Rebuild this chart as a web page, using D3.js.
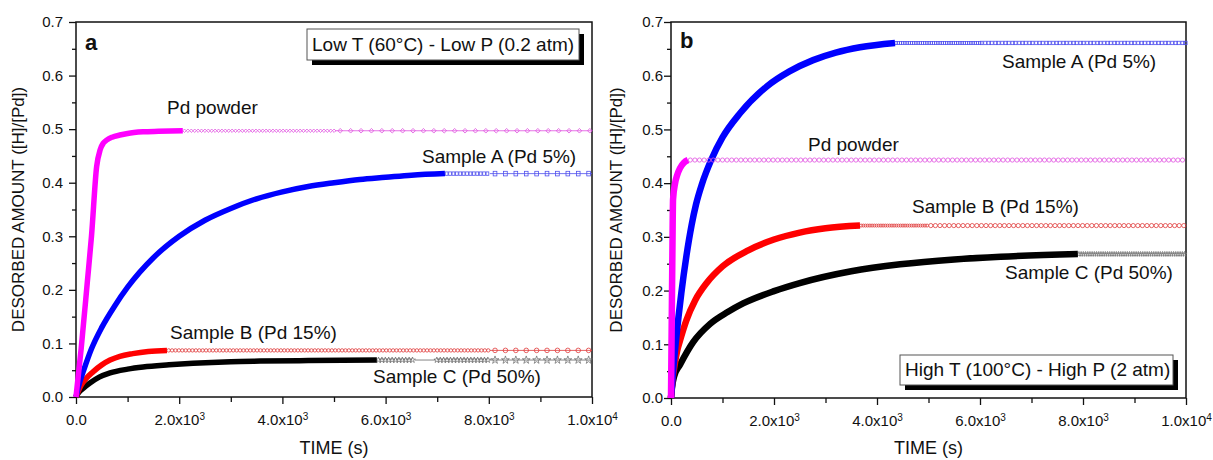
<!DOCTYPE html>
<html>
<head>
<meta charset="utf-8">
<script src="https://cdn.jsdelivr.net/npm/d3@7"></script>
<style>
  body { margin: 0; background: #fff; }
  text { font-family: "Liberation Sans", Arial, sans-serif; fill: #111; }
</style>
</head>
<body>
<svg id="chart" width="1213" height="460"></svg>
<script>
// ---- data ----
var timeTicks = [0, 2000, 4000, 6000, 8000, 10000];
var timeMinor = [1000, 3000, 5000, 7000, 9000];
var amountTicks = [0, 0.1, 0.2, 0.3, 0.4, 0.5, 0.6, 0.7];
var amountMinor = [0.05, 0.15, 0.25, 0.35, 0.45, 0.55, 0.65];

// panel a : Low T (60°C) - Low P (0.2 atm)
var pdA_t = [0, 100, 220, 300, 400, 470, 530, 600, 700, 850, 1000, 1300, 1600, 2070];
var pdA_v = [0, 0.09, 0.215, 0.30, 0.43, 0.462, 0.474, 0.48, 0.485, 0.489, 0.492, 0.495, 0.496, 0.497];
var pdA_tail = [2070, 5020, 10000];

var sA_a_t = [0, 50, 150, 300, 500, 750, 1000, 1500, 2000, 2500, 3000, 3500, 4000, 4500, 5000, 5500, 6000, 6500, 7150];
var sA_a_v = [0, 0.02, 0.05, 0.09, 0.13, 0.17, 0.205, 0.26, 0.30, 0.33, 0.352, 0.37, 0.383, 0.393, 0.400, 0.406, 0.410, 0.414, 0.417];
var sA_a_tail = [7150, 8020, 10000];

var sB_a_t = [0, 50, 100, 200, 330, 500, 660, 850, 1100, 1400, 1763];
var sB_a_v = [0, 0.012, 0.022, 0.035, 0.047, 0.06, 0.069, 0.076, 0.081, 0.085, 0.087];
var sB_a_tail = [1763, 8020, 10000];

var sC_a_t = [0, 50, 150, 270, 450, 660, 1000, 1300, 1800, 2270, 3000, 3570, 4500, 5830];
var sC_a_v = [0, 0.008, 0.017, 0.026, 0.037, 0.045, 0.052, 0.056, 0.060, 0.063, 0.066, 0.067, 0.068, 0.069];
var sC_a_tail = [5830, 6570, 6960, 8020, 10000];

// panel b : High T (100°C) - High P (2 atm)
var pdB_t = [0, 10, 25, 40, 80, 120, 175, 250, 330];
var pdB_v = [0, 0.1, 0.25, 0.37, 0.40, 0.415, 0.428, 0.438, 0.443];
var pdB_tail = [330, 10000];

var sA_b_t = [0, 40, 100, 200, 300, 400, 485, 600, 780, 1000, 1340, 1860, 2300, 2760, 3200, 3670, 4350];
var sA_b_v = [0, 0.05, 0.11, 0.195, 0.265, 0.322, 0.36, 0.398, 0.443, 0.485, 0.53, 0.58, 0.608, 0.629, 0.643, 0.653, 0.661];
var sA_b_tail = [4350, 6000, 10000];

var sB_b_t = [0, 25, 60, 120, 175, 300, 470, 700, 1000, 1500, 2000, 2500, 3000, 3670];
var sB_b_v = [0, 0.03, 0.055, 0.088, 0.107, 0.145, 0.182, 0.215, 0.245, 0.275, 0.295, 0.308, 0.316, 0.321];
var sB_b_tail = [3670, 5000, 10000];

var sC_b_t = [0, 20, 60, 175, 430, 760, 1100, 1400, 2000, 2500, 3500, 4450, 5500, 6400, 7900];
var sC_b_v = [0, 0.02, 0.04, 0.062, 0.104, 0.138, 0.16, 0.176, 0.199, 0.214, 0.236, 0.249, 0.258, 0.263, 0.268];
var sC_b_tail = [7900, 10000];

// ---- styles ----
var tailStyles = {
  dense:  { step: 3.4, size: 3.4 },
  fine:   { step: 2.2, size: 3.0 },
  mid:    { step: 4.6, size: 4.2 },
  sparse: { step: 10.4, size: 4.6, line: true },
  line:   { step: 0, line: true }
};

var panels = [
  {
    box: { left: 76, right: 592, top: 22, bottom: 397 },
    letter: "a", letterPos: [85, 50],
    note: "Low T (60°C) - Low P (0.2 atm)", noteBox: [307, 29, 272, 31], noteText: [312, 51],
    yTitleX: 24, labelPad: 6, width: 5.5,
    series: [
      { t: sC_a_t, v: sC_a_v, tail: sC_a_tail, kinds: ["dense", "line", "dense", "sparse"], color: "#000", mark: "#666", shape: "star",
        label: "Sample C (Pd 50%)", at: [373, 383] },
      { t: sB_a_t, v: sB_a_v, tail: sB_a_tail, kinds: ["dense", "sparse"], color: "#ff0000", mark: "#e03a3a", shape: "circle",
        label: "Sample B (Pd 15%)", at: [170, 339] },
      { t: sA_a_t, v: sA_a_v, tail: sA_a_tail, kinds: ["dense", "sparse"], color: "#0000ff", mark: "#5050ee", shape: "square",
        label: "Sample A (Pd 5%)", at: [422, 163] },
      { t: pdA_t, v: pdA_v, tail: pdA_tail, kinds: ["dense", "sparse"], color: "#ff00ff", mark: "#e050e0", shape: "diamond",
        label: "Pd powder", at: [167, 114] }
    ]
  },
  {
    box: { left: 671, right: 1186, top: 22, bottom: 398 },
    letter: "b", letterPos: [680, 48],
    note: "High T (100°C) - High P (2 atm)", noteBox: [900, 355, 273, 30], noteText: [905, 376],
    yTitleX: 622, labelPad: 1, width: 6.5,
    series: [
      { t: sC_b_t, v: sC_b_v, tail: sC_b_tail, kinds: ["fine"], color: "#000", mark: "#777", shape: "star",
        label: "Sample C (Pd 50%)", at: [1005, 279] },
      { t: sB_b_t, v: sB_b_v, tail: sB_b_tail, kinds: ["fine", "mid"], color: "#ff0000", mark: "#e03a3a", shape: "circle",
        label: "Sample B (Pd 15%)", at: [912, 213] },
      { t: sA_b_t, v: sA_b_v, tail: sA_b_tail, kinds: ["fine", "dense"], color: "#0000ff", mark: "#5050ee", shape: "square",
        label: "Sample A (Pd 5%)", at: [1002, 68] },
      { t: pdB_t, v: pdB_v, tail: pdB_tail, kinds: ["mid"], color: "#ff00ff", mark: "#e050e0", shape: "circle",
        label: "Pd powder", at: [808, 151] }
    ]
  }
];

var svg = d3.select("#chart");

function drawMarker(g, shape, px, py, size, color) {
  var h = size / 2;
  if (shape === "circle") {
    g.append("circle").attr("cx", px).attr("cy", py).attr("r", h)
      .attr("fill", "none").attr("stroke", color).attr("stroke-width", 0.8);
  } else if (shape === "square") {
    g.append("rect").attr("x", px - h * 0.8).attr("y", py - h).attr("width", size * 0.8).attr("height", size)
      .attr("fill", "none").attr("stroke", color).attr("stroke-width", 0.8);
  } else if (shape === "diamond") {
    g.append("path").attr("d", `M${px},${py - h}L${px + h},${py}L${px},${py + h}L${px - h},${py}Z`)
      .attr("fill", "none").attr("stroke", color).attr("stroke-width", 0.8);
  } else {
    g.append("path").attr("transform", `translate(${px},${py})`)
      .attr("d", d3.symbol(d3.symbolStar, size * size * 0.9)())
      .attr("fill", "none").attr("stroke", color).attr("stroke-width", 0.7);
  }
}

panels.forEach(function(p) {
  var b = p.box;
  var g = svg.append("g");

  var xScale = d3.scaleLinear().domain([0, 10000]).range([b.left, b.right]);
  var yScale = d3.scaleLinear().domain([0, 0.7]).range([b.bottom, b.top]);

  // minor ticks
  g.append("g").attr("transform", `translate(0, ${b.bottom})`)
    .call(d3.axisBottom(xScale).tickValues(timeMinor).tickSize(5).tickSizeOuter(0).tickFormat(""));
  g.append("g").attr("transform", `translate(${b.left}, 0)`)
    .call(d3.axisLeft(yScale).tickValues(amountMinor).tickSize(4).tickSizeOuter(0).tickFormat(""));

  // major ticks + labels
  var xAxis = g.append("g").attr("transform", `translate(0, ${b.bottom})`)
    .call(d3.axisBottom(xScale).tickValues(timeTicks).tickSize(7).tickSizeOuter(0).tickPadding(10));
  xAxis.selectAll(".tick text").each(function(d) {
    var t = d3.select(this).text("");
    if (d === 0) { t.text("0.0"); return; }
    var e = Math.floor(Math.log10(d));
    t.append("tspan").text((d / Math.pow(10, e)).toFixed(1) + "x10");
    t.append("tspan").attr("dy", "-0.45em").attr("font-size", "10px").text(e);
  });
  g.append("g").attr("transform", `translate(${b.left}, 0)`)
    .call(d3.axisLeft(yScale).tickValues(amountTicks).tickSize(7).tickSizeOuter(0)
      .tickPadding(p.labelPad).tickFormat(d3.format(".1f")));

  g.selectAll(".tick text").attr("font-size", "15px").attr("fill", "#111")
    .style("font-family", "'Liberation Sans', Arial, sans-serif");
  g.selectAll(".domain").remove();
  g.selectAll(".tick line").attr("stroke", "#111").attr("stroke-width", 1.3);

  // frame
  g.append("rect")
    .attr("x", b.left).attr("y", b.top)
    .attr("width", b.right - b.left).attr("height", b.bottom - b.top)
    .attr("fill", "none").attr("stroke", "#111").attr("stroke-width", 1.5);

  var line = d3.line()
    .x(function(d) { return xScale(d[0]); })
    .y(function(d) { return yScale(d[1]); })
    .curve(d3.curveMonotoneX);

  p.series.forEach(function(s) {
    var level = s.v[s.v.length - 1];
    var py = yScale(level);
    var tg = g.append("g");

    // plateau: symbols along the level
    s.kinds.forEach(function(k, i) {
      var st = tailStyles[k];
      var x0 = xScale(s.tail[i]), x1 = xScale(s.tail[i + 1]);
      if (st.line) {
        tg.append("line").attr("x1", x0).attr("x2", x1).attr("y1", py).attr("y2", py)
          .attr("stroke", s.mark).attr("stroke-width", 0.8);
      }
      if (st.step) {
        d3.range(x0 + st.step / 2, x1, st.step).forEach(function(px) {
          drawMarker(tg, s.shape, px, py, st.size, s.mark);
        });
      }
    });

    // thick measured part
    g.append("path")
      .datum(d3.zip(s.t, s.v))
      .attr("d", line)
      .attr("fill", "none")
      .attr("stroke", s.color)
      .attr("stroke-width", p.width);

    g.append("text")
      .attr("x", s.at[0]).attr("y", s.at[1])
      .attr("font-size", "19px")
      .text(s.label);
  });

  // panel letter
  g.append("text")
    .attr("x", p.letterPos[0]).attr("y", p.letterPos[1])
    .attr("font-size", "22px").attr("font-weight", "bold")
    .text(p.letter);

  // condition box with shadow
  var nb = p.noteBox;
  g.append("rect").attr("x", nb[0] + 5).attr("y", nb[1] + 5).attr("width", nb[2]).attr("height", nb[3]).attr("fill", "#000");
  g.append("rect").attr("x", nb[0]).attr("y", nb[1]).attr("width", nb[2]).attr("height", nb[3])
    .attr("fill", "#fff").attr("stroke", "#555").attr("stroke-width", 1);
  g.append("text").attr("x", p.noteText[0]).attr("y", p.noteText[1]).attr("font-size", "19px").text(p.note);

  // axis titles
  g.append("text")
    .attr("x", (b.left + b.right) / 2).attr("y", 454)
    .attr("text-anchor", "middle").attr("font-size", "18px")
    .text("TIME (s)");

  g.append("text")
    .attr("transform", `translate(${p.yTitleX}, ${(b.top + b.bottom) / 2}) rotate(-90)`)
    .attr("text-anchor", "middle").attr("font-size", "17px")
    .text("DESORBED AMOUNT ([H]/[Pd])");
});
</script>
</body>
</html>
